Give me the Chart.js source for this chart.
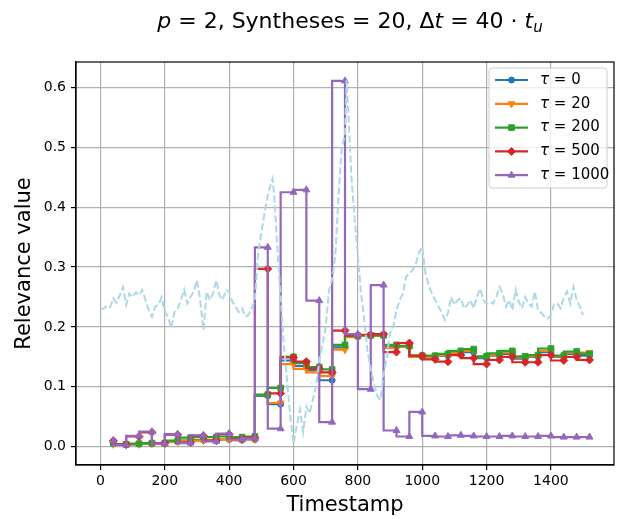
<!DOCTYPE html>
<html>
<head>
<meta charset="utf-8">
<script src="https://cdn.jsdelivr.net/npm/chart.js@4.4.1/dist/chart.umd.min.js"></script>
<style>
html, body { margin: 0; padding: 0; background: #fff; }
canvas { display: block; }
</style>
</head>
<body>
<canvas id="chart" width="619" height="519"></canvas>
<script>
// step series share the same timestamps
const stepX = [40, 80, 120, 160, 200, 240, 280, 320, 360, 400, 440, 480, 520, 560, 600, 640, 680, 720, 760,
  800, 840, 880, 920, 960, 1000, 1040, 1080, 1120, 1160, 1200, 1240, 1280, 1320, 1360, 1400, 1440, 1480, 1520];

const tau0 = [0.005, 0.003, 0.004, 0.005, 0.006, 0.008, 0.010, 0.011, 0.011, 0.012, 0.011, 0.012, 0.085, 0.071,
  0.144, 0.135, 0.128, 0.111, 0.166, 0.184, 0.186, 0.186, 0.167, 0.168, 0.150, 0.149, 0.152, 0.155, 0.158,
  0.148, 0.152, 0.155, 0.147, 0.150, 0.158, 0.150, 0.155, 0.152];
const tau20 = [0.004, 0.003, 0.004, 0.005, 0.005, 0.008, 0.010, 0.010, 0.011, 0.012, 0.011, 0.012, 0.086, 0.073,
  0.138, 0.130, 0.124, 0.118, 0.162, 0.183, 0.185, 0.185, 0.165, 0.167, 0.150, 0.150, 0.153, 0.157, 0.160,
  0.150, 0.153, 0.157, 0.149, 0.151, 0.160, 0.151, 0.157, 0.157];
const tau200 = [0.006, 0.004, 0.005, 0.006, 0.006, 0.010, 0.015, 0.016, 0.016, 0.017, 0.016, 0.017, 0.087, 0.098,
  0.150, 0.140, 0.133, 0.129, 0.170, 0.185, 0.186, 0.186, 0.170, 0.168, 0.152, 0.152, 0.155, 0.160, 0.163,
  0.151, 0.156, 0.160, 0.151, 0.153, 0.164, 0.152, 0.159, 0.155];
const tau500 = [0.010, 0.004, 0.017, 0.024, 0.006, 0.020, 0.007, 0.018, 0.010, 0.021, 0.013, 0.015, 0.297, 0.089,
  0.149, 0.142, 0.131, 0.124, 0.194, 0.186, 0.187, 0.188, 0.158, 0.173, 0.152, 0.146, 0.142, 0.153, 0.148,
  0.138, 0.145, 0.150, 0.141, 0.141, 0.153, 0.144, 0.150, 0.145];
const tau1000 = [0.010, 0.003, 0.018, 0.025, 0.005, 0.021, 0.006, 0.019, 0.009, 0.022, 0.012, 0.014, 0.333, 0.030,
  0.425, 0.429, 0.244, 0.041, 0.611, 0.188, 0.096, 0.270, 0.027, 0.017, 0.058, 0.018, 0.017, 0.019, 0.018,
  0.017, 0.017, 0.018, 0.017, 0.017, 0.018, 0.016, 0.016, 0.016];

// light blue dashed reference curve
const refX = [0, 10, 20, 30, 40, 50, 60, 70, 80, 90, 100, 110, 120, 130, 140, 150, 160, 170, 180, 190,
  200, 210, 220, 230, 240, 250, 260, 270, 280, 290, 300, 310, 320, 330, 340, 350, 360, 370, 380, 390,
  400, 410, 420, 430, 440, 450, 460, 470, 480, 490, 500, 510, 520, 530, 535, 540, 550, 560, 570, 580, 590,
  600, 610, 620, 630, 640, 650, 660, 670, 680, 690, 700, 710, 720, 730, 740, 750, 760, 765, 770, 780, 790,
  800, 810, 820, 830, 840, 850, 860, 870, 880, 890, 900, 910, 920, 930, 940, 950, 960, 970, 980, 990,
  1000, 1010, 1020, 1030, 1040, 1050, 1060, 1070, 1080, 1090, 1100, 1110, 1120, 1130, 1140, 1150, 1160,
  1170, 1180, 1190, 1200, 1210, 1220, 1230, 1240, 1250, 1260, 1270, 1280, 1290, 1300, 1310, 1320, 1330,
  1340, 1350, 1360, 1370, 1380, 1390, 1400, 1410, 1420, 1430, 1440, 1450, 1460, 1470, 1480, 1490, 1500];
const refY = [0.230, 0.231, 0.235, 0.233, 0.248, 0.240, 0.253, 0.267, 0.237, 0.256, 0.250, 0.258, 0.253, 0.262,
  0.245, 0.228, 0.217, 0.234, 0.237, 0.250, 0.225, 0.217, 0.198, 0.225, 0.231, 0.245, 0.262, 0.239, 0.250,
  0.259, 0.278, 0.245, 0.195, 0.259, 0.245, 0.256, 0.278, 0.253, 0.245, 0.262, 0.258, 0.242, 0.234, 0.225,
  0.231, 0.217, 0.220, 0.231, 0.245, 0.323, 0.357, 0.390, 0.420, 0.440, 0.448, 0.420, 0.330, 0.250, 0.170,
  0.110, 0.050, 0.005, 0.035, 0.062, 0.025, 0.067, 0.056, 0.078, 0.100, 0.145, 0.170, 0.200, 0.260, 0.280,
  0.320, 0.420, 0.500, 0.520, 0.612, 0.560, 0.450, 0.380, 0.320, 0.256, 0.212, 0.160, 0.130, 0.105, 0.085,
  0.078, 0.120, 0.150, 0.190, 0.200, 0.228, 0.245, 0.256, 0.284, 0.289, 0.295, 0.305, 0.325, 0.334, 0.290,
  0.270, 0.256, 0.245, 0.234, 0.225, 0.212, 0.223, 0.250, 0.237, 0.245, 0.248, 0.231, 0.237, 0.245, 0.231,
  0.250, 0.264, 0.245, 0.239, 0.242, 0.239, 0.250, 0.267, 0.256, 0.234, 0.245, 0.228, 0.262, 0.242, 0.231,
  0.250, 0.239, 0.234, 0.259, 0.228, 0.223, 0.217, 0.214, 0.220, 0.239, 0.239, 0.231, 0.250, 0.259, 0.239,
  0.267, 0.245, 0.234, 0.220];

const xTicks = [0, 200, 400, 600, 800, 1000, 1200, 1400];
const yTicks = [0.0, 0.1, 0.2, 0.3, 0.4, 0.5, 0.6];
const tauLabels = ['0', '20', '200', '500', '1000'];

const FONT = "'DejaVu Sans', sans-serif";
const colors = ['#1f77b4', '#ff7f0e', '#2ca02c', '#d62728', '#9467bd'];
const markers = [
  { style: 'circle', radius: 3, rotation: 0 },
  { style: 'triangle', radius: 4, rotation: 180 },
  { style: 'rect', radius: 4, rotation: 0 },
  { style: 'rectRot', radius: 4, rotation: 0 },
  { style: 'triangle', radius: 4, rotation: 0 }
];
const seriesValues = [tau0, tau20, tau200, tau500, tau1000];

const stepSets = seriesValues.map((vals, i) => ({
  label: 'τ = ' + tauLabels[i],
  data: stepX.map((x, j) => ({ x: x, y: vals[j] })),
  borderColor: colors[i],
  backgroundColor: colors[i],
  borderWidth: 2.2,
  stepped: 'after',
  pointStyle: markers[i].style,
  pointRadius: markers[i].radius,
  pointRotation: markers[i].rotation,
  pointBorderWidth: 1,
  order: 5 - i
}));

const refSet = {
  label: 'reference',
  data: refX.map((x, j) => ({ x: x, y: refY[j] })),
  borderColor: '#add8e6',
  borderWidth: 2,
  borderDash: [7, 3],
  pointRadius: 0,
  tension: 0,
  order: 0
};

function drawMarker(ctx, m, x, y, color) {
  ctx.save();
  ctx.fillStyle = color;
  ctx.strokeStyle = color;
  ctx.lineWidth = 1;
  ctx.translate(x, y);
  ctx.rotate(m.rotation * Math.PI / 180);
  const r = m.radius;
  ctx.beginPath();
  if (m.style === 'circle') {
    ctx.arc(0, 0, r, 0, Math.PI * 2);
  } else if (m.style === 'triangle') {
    for (let k = 0; k < 3; k++) {
      const a = k * 2 * Math.PI / 3;
      ctx.lineTo(Math.sin(a) * r, -Math.cos(a) * r);
    }
    ctx.closePath();
  } else if (m.style === 'rect') {
    const s = r * Math.SQRT1_2;
    ctx.rect(-s, -s, 2 * s, 2 * s);
  } else {
    ctx.moveTo(0, -r); ctx.lineTo(r, 0); ctx.lineTo(0, r); ctx.lineTo(-r, 0); ctx.closePath();
  }
  ctx.fill();
  ctx.stroke();
  ctx.restore();
}

const framePlugin = {
  id: 'frame',
  afterDraw(chart) {
    const ctx = chart.ctx;
    const a = chart.chartArea;
    ctx.save();

    // axes box
    ctx.strokeStyle = '#000';
    ctx.lineWidth = 1.2;
    ctx.strokeRect(a.left, a.top, a.right - a.left, a.bottom - a.top);

    // title with math italics
    const parts = [
      ['p', 'italic ', 0], [' = 2, Syntheses = 20, Δ', '', 0], ['t', 'italic ', 0],
      [' = 40 · ', '', 0], ['t', 'italic ', 0], ['u', 'italic ', 1]
    ];
    let total = 0;
    parts.forEach(p => {
      ctx.font = p[1] + (p[2] ? 15 : 22) + 'px ' + FONT;
      p.w = ctx.measureText(p[0]).width;
      total += p.w;
    });
    let tx = 350 - total / 2;
    ctx.fillStyle = '#000';
    ctx.textBaseline = 'alphabetic';
    parts.forEach(p => {
      ctx.font = p[1] + (p[2] ? 15 : 22) + 'px ' + FONT;
      ctx.fillText(p[0], tx, p[2] ? 32 : 28);
      tx += p.w;
    });

    // legend
    const bx = 489, by = 68, bw = 118, bh = 120;
    ctx.beginPath();
    ctx.roundRect(bx, by, bw, bh, 3);
    ctx.fillStyle = 'rgba(255,255,255,0.8)';
    ctx.fill();
    ctx.strokeStyle = '#cccccc';
    ctx.lineWidth = 1;
    ctx.stroke();
    for (let i = 0; i < 5; i++) {
      const y = 80 + i * 23.8;
      ctx.strokeStyle = colors[i];
      ctx.lineWidth = 2.2;
      ctx.beginPath();
      ctx.moveTo(495, y);
      ctx.lineTo(528, y);
      ctx.stroke();
      drawMarker(ctx, markers[i], 511.5, y, colors[i]);
      ctx.fillStyle = '#000';
      ctx.textBaseline = 'middle';
      ctx.font = 'italic 15px ' + FONT;
      ctx.fillText('τ', 540, y);
      const w = ctx.measureText('τ').width;
      ctx.font = '15px ' + FONT;
      ctx.fillText(' = ' + tauLabels[i], 540 + w, y);
    }
    ctx.restore();
  }
};

new Chart(document.getElementById('chart'), {
  type: 'line',
  data: { datasets: [...stepSets, refSet] },
  options: {
    responsive: false,
    animation: false,
    devicePixelRatio: 1,
    layout: { padding: { top: 62, right: 2, left: 0, bottom: 0 } },
    plugins: { legend: { display: false }, tooltip: { enabled: false } },
    scales: {
      x: {
        type: 'linear',
        min: -76,
        max: 1596,
        afterFit: s => { s.height = 54; },
        afterBuildTicks: s => { s.ticks = xTicks.map(v => ({ value: v })); },
        ticks: { color: '#000', font: { family: FONT, size: 14 }, padding: 3, maxRotation: 0,
          callback: v => String(v) },
        grid: { color: '#b0b0b0', lineWidth: 1.2, tickColor: '#000', tickLength: 5 },
        border: { color: '#000', width: 1.2 },
        title: { display: true, text: 'Timestamp', color: '#000', font: { family: FONT, size: 21 },
          padding: { top: 0, bottom: 1 } }
      },
      y: {
        type: 'linear',
        min: -0.0306,
        max: 0.6426,
        afterFit: s => { s.width = 76; },
        afterBuildTicks: s => { s.ticks = yTicks.map(v => ({ value: v })); },
        ticks: { color: '#000', font: { family: FONT, size: 14 }, padding: 5,
          callback: v => v.toFixed(1) },
        grid: { color: '#b0b0b0', lineWidth: 1.2, tickColor: '#000', tickLength: 5 },
        border: { color: '#000', width: 1.2 },
        title: { display: true, text: 'Relevance value', color: '#000', font: { family: FONT, size: 21 },
          padding: { top: 12, bottom: 0 } }
      }
    }
  },
  plugins: [framePlugin]
});
</script>
</body>
</html>
